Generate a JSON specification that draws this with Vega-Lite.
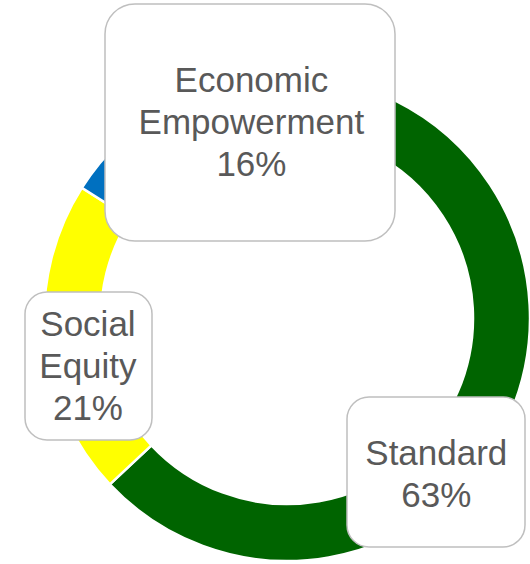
{
  "$schema": "https://vega.github.io/schema/vega-lite/v6.json",
  "width": 484,
  "height": 484,
  "autosize": {"type": "none"},
  "padding": {"left": 45, "top": 76, "right": 1, "bottom": 4},
  "background": "white",
  "config": {"view": {"stroke": null}},
  "data": {
    "values": [
      {"category": "Standard", "value": 63},
      {"category": "Social Equity", "value": 21},
      {"category": "Economic Empowerment", "value": 16}
    ]
  },
  "layer": [
    {
      "mark": {"type": "arc", "outerRadius": 243, "innerRadius": 186, "stroke": "white", "strokeWidth": 2.5},
      "encoding": {
        "theta": {"field": "value", "type": "quantitative", "stack": true},
        "order": {"field": "category", "sort": "descending"},
        "color": {
          "field": "category",
          "type": "nominal",
          "scale": {"domain": ["Standard", "Social Equity", "Economic Empowerment"], "range": ["#006400", "#FFFF00", "#0070C0"]},
          "legend": null
        }
      }
    },
    {
      "mark": {
        "type": "point",
        "filled": true,
        "fill": "white",
        "stroke": "#BFBFBF",
        "strokeWidth": 1.5,
        "opacity": 1,
        "size": 4,
        "x": {"expr": "width/2 + (datum.category == 'Standard' ? 149 : datum.category == 'Social Equity' ? -198.5 : -37)"},
        "y": {"expr": "height/2 + (datum.category == 'Standard' ? 154 : datum.category == 'Social Equity' ? 48 : -195.5)"}
      },
      "encoding": {
        "shape": {
          "field": "category",
          "type": "nominal",
          "scale": {
            "domain": ["Standard", "Social Equity", "Economic Empowerment"],
            "range": [
              "M -67 -75 L 67 -75 C 79.2 -75 89 -65.2 89 -53 L 89 53 C 89 65.2 79.2 75 67 75 L -67 75 C -79.2 75 -89 65.2 -89 53 L -89 -53 C -89 -65.2 -79.2 -75 -67 -75 Z",
              "M -41.5 -74 L 41.5 -74 C 53.7 -74 63.5 -64.2 63.5 -52 L 63.5 52 C 63.5 64.2 53.7 74 41.5 74 L -41.5 74 C -53.7 74 -63.5 64.2 -63.5 52 L -63.5 -52 C -63.5 -64.2 -53.7 -74 -41.5 -74 Z",
              "M -115 -118.5 L 115 -118.5 C 131.6 -118.5 145 -105.1 145 -88.5 L 145 88.5 C 145 105.1 131.6 118.5 115 118.5 L -115 118.5 C -131.6 118.5 -145 105.1 -145 88.5 L -145 -88.5 C -145 -105.1 -131.6 -118.5 -115 -118.5 Z"
            ]
          },
          "legend": null
        }
      }
    },
    {
      "transform": [
        {"calculate": "replace(datum.category, ' ', '\\n') + '\\n' + datum.value + '%'", "as": "label"}
      ],
      "mark": {
        "type": "text",
        "radius": 215,
        "fontSize": 35,
        "font": "Liberation Sans",
        "color": "#595959",
        "lineBreak": "\n",
        "lineHeight": 42,
        "align": "center",
        "baseline": "middle",
        "dx": {"expr": "datum.category == 'Standard' ? -48 : datum.category == 'Social Equity' ? 15 : 68"},
        "dy": {"expr": "datum.category == 'Standard' ? 51 : datum.category == 'Social Equity' ? -13 : -49"}
      },
      "encoding": {
        "theta": {"field": "value", "type": "quantitative", "stack": true},
        "order": {"field": "category", "sort": "descending"},
        "text": {"field": "label"}
      }
    }
  ]
}
